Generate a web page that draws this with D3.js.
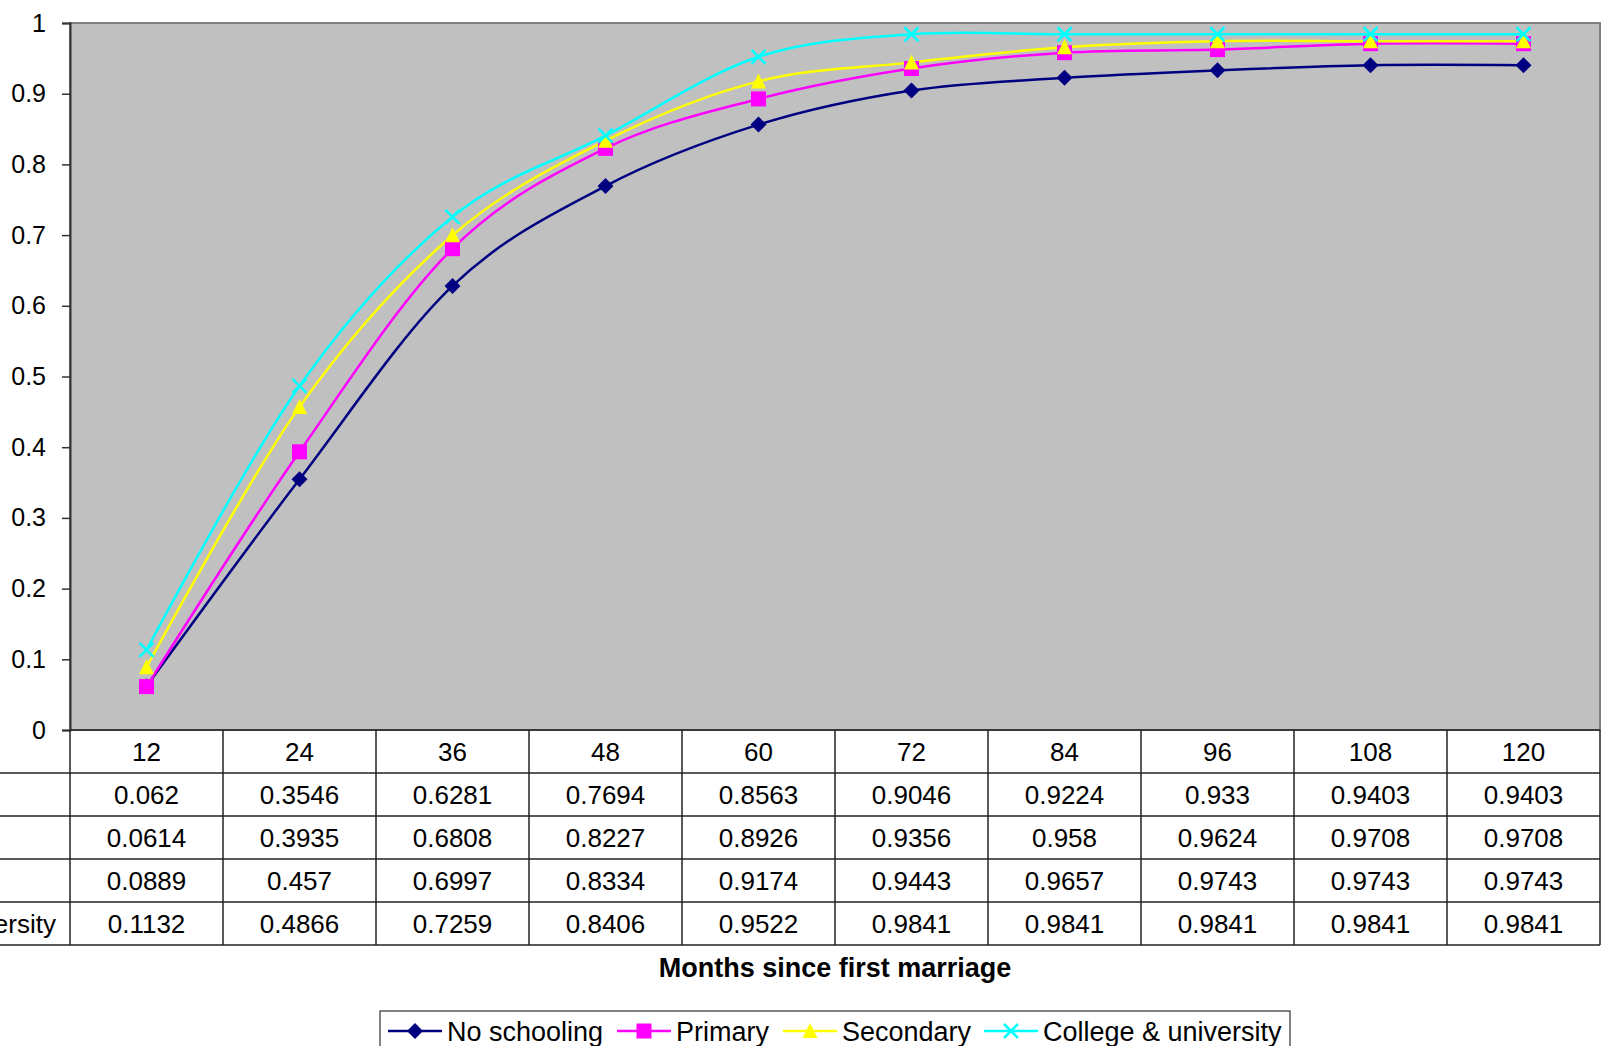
<!DOCTYPE html>
<html>
<head>
<meta charset="utf-8">
<script src="https://cdn.jsdelivr.net/npm/d3@7"></script>
<style>
  body { margin: 0; background: #fff; }
  svg { display: block; }
  text { font-family: "Liberation Sans", Arial, Helvetica, sans-serif; fill: #000; }
</style>
</head>
<body>
<script>
const WIDTH = 1602;
const HEIGHT = 1046;

const months = [12, 24, 36, 48, 60, 72, 84, 96, 108, 120];
const seriesNames = ["No schooling", "Primary", "Secondary", "College & university"];
const noSchooling = [0.062, 0.3546, 0.6281, 0.7694, 0.8563, 0.9046, 0.9224, 0.933, 0.9403, 0.9403];
const primary = [0.0614, 0.3935, 0.6808, 0.8227, 0.8926, 0.9356, 0.958, 0.9624, 0.9708, 0.9708];
const secondary = [0.0889, 0.457, 0.6997, 0.8334, 0.9174, 0.9443, 0.9657, 0.9743, 0.9743, 0.9743];
const college = [0.1132, 0.4866, 0.7259, 0.8406, 0.9522, 0.9841, 0.9841, 0.9841, 0.9841, 0.9841];
const yTicks = [0, 0.1, 0.2, 0.3, 0.4, 0.5, 0.6, 0.7, 0.8, 0.9, 1];
const xTitle = "Months since first marriage";

const colors = ["#000080", "#FF00FF", "#FFFF00", "#00FFFF"];
const symbols = ["diamond", "square", "triangle", "cross"];
const allValues = [noSchooling, primary, secondary, college];

const series = seriesNames.map((name, i) => ({
    name: name,
    color: colors[i],
    symbol: symbols[i],
    values: allValues[i]
}));

const plotLeft = 70, plotRight = 1600, plotTop = 23, plotBottom = 730;
const rowH = 43;

const x = d3.scaleBand().domain(months).range([plotLeft, plotRight]).padding(0);
const y = d3.scaleLinear().domain([0, 1]).range([plotBottom, plotTop]);

const svg = d3.select("body").append("svg")
    .attr("width", WIDTH)
    .attr("height", HEIGHT);

// plot area
svg.append("rect")
    .attr("x", plotLeft).attr("y", plotTop)
    .attr("width", plotRight - plotLeft).attr("height", plotBottom - plotTop)
    .attr("fill", "#C0C0C0")
    .attr("stroke", "#808080")
    .attr("stroke-width", 2);

// y axis
const yAxis = d3.axisLeft(y)
    .tickValues(yTicks)
    .tickSize(8)
    .tickPadding(16)
    .tickFormat(d => String(+d.toFixed(1)));

const ya = svg.append("g")
    .attr("transform", `translate(${plotLeft},0)`)
    .call(yAxis);
ya.select(".domain").attr("stroke", "#333").attr("stroke-width", 2);
ya.selectAll(".tick line").attr("stroke", "#333").attr("stroke-width", 1.5);
ya.selectAll(".tick text")
    .style("font-size", "25px")
    .style("font-family", "'Liberation Sans', Arial, sans-serif")
    .attr("fill", "#000");

// lines
const line = d3.line()
    .x((d, i) => x(months[i]) + x.bandwidth() / 2)
    .y(d => y(d))
    .curve(d3.curveCatmullRom.alpha(0));

function drawMarker(g, sym, color, cx, cy) {
    if (sym === "diamond") {
        g.append("path")
            .attr("d", `M${cx},${cy - 8}L${cx + 8},${cy}L${cx},${cy + 8}L${cx - 8},${cy}Z`)
            .attr("fill", color);
    } else if (sym === "square") {
        g.append("rect")
            .attr("x", cx - 7.5).attr("y", cy - 7.5)
            .attr("width", 15).attr("height", 15)
            .attr("fill", color);
    } else if (sym === "triangle") {
        g.append("path")
            .attr("d", `M${cx},${cy - 8}L${cx + 7.5},${cy + 7}L${cx - 7.5},${cy + 7}Z`)
            .attr("fill", color);
    } else {
        g.append("path")
            .attr("d", `M${cx - 7},${cy - 7}L${cx + 7},${cy + 7}M${cx + 7},${cy - 7}L${cx - 7},${cy + 7}`)
            .attr("stroke", color)
            .attr("stroke-width", 2.5);
    }
}

series.forEach(s => {
    svg.append("path")
        .datum(s.values)
        .attr("d", line)
        .attr("fill", "none")
        .attr("stroke", s.color)
        .attr("stroke-width", 2.5);
});

series.forEach(s => {
    const g = svg.append("g");
    s.values.forEach((v, i) => {
        drawMarker(g, s.symbol, s.color, x(months[i]) + x.bandwidth() / 2, y(v));
    });
});

// data table
const table = svg.append("g");
const tableBottom = plotBottom + rowH * 5;

for (let r = 1; r <= 5; r++) {
    const yy = plotBottom + r * rowH;
    table.append("line")
        .attr("x1", 0).attr("x2", plotRight)
        .attr("y1", yy).attr("y2", yy)
        .attr("stroke", "#222").attr("stroke-width", 1.5);
}
table.append("line")
    .attr("x1", plotLeft).attr("x2", plotRight)
    .attr("y1", plotBottom).attr("y2", plotBottom)
    .attr("stroke", "#222").attr("stroke-width", 1.5);

months.concat([null]).forEach(m => {
    const xx = m === null ? plotRight : x(m);
    table.append("line")
        .attr("x1", xx).attr("x2", xx)
        .attr("y1", plotBottom).attr("y2", tableBottom)
        .attr("stroke", "#222").attr("stroke-width", 1.5);
});

months.forEach(m => {
    table.append("text")
        .attr("x", x(m) + x.bandwidth() / 2)
        .attr("y", plotBottom + rowH / 2)
        .attr("dy", "0.36em")
        .attr("text-anchor", "middle")
        .style("font-size", "26px")
        .text(m);
});

// row labels (left-aligned, clipped at page edge as in the original)
const measure = svg.append("text").style("font-size", "26px").text(seriesNames[3]);
const longest = measure.node().getComputedTextLength();
measure.remove();
const labelX = 56 - longest;

series.forEach((s, r) => {
    const cy = plotBottom + rowH * (r + 1) + rowH / 2;
    table.append("text")
        .attr("x", labelX)
        .attr("y", cy)
        .attr("dy", "0.36em")
        .style("font-size", "26px")
        .text(s.name);
    s.values.forEach((v, i) => {
        table.append("text")
            .attr("x", x(months[i]) + x.bandwidth() / 2)
            .attr("y", cy)
            .attr("dy", "0.36em")
            .attr("text-anchor", "middle")
            .style("font-size", "26px")
            .text(v);
    });
});

// axis title
svg.append("text")
    .attr("x", (plotLeft + plotRight) / 2)
    .attr("y", 967)
    .attr("dy", "0.36em")
    .attr("text-anchor", "middle")
    .style("font-size", "27px")
    .style("font-weight", "bold")
    .text(xTitle);

// legend
const legend = svg.append("g");
legend.append("rect")
    .attr("x", 380).attr("y", 1011)
    .attr("width", 910).attr("height", 60)
    .attr("fill", "#fff")
    .attr("stroke", "#333")
    .attr("stroke-width", 1.2);

const legendX = [388, 617, 783, 984];
series.forEach((s, i) => {
    const lx = legendX[i];
    const ly = 1031;
    const g = legend.append("g");
    g.append("line")
        .attr("x1", lx).attr("x2", lx + 54)
        .attr("y1", ly).attr("y2", ly)
        .attr("stroke", s.color).attr("stroke-width", 2.5);
    drawMarker(g, s.symbol, s.color, lx + 27, ly);
    g.append("text")
        .attr("x", lx + 59)
        .attr("y", ly)
        .attr("dy", "0.36em")
        .style("font-size", "27px")
        .text(s.name);
});
</script>
</body>
</html>
